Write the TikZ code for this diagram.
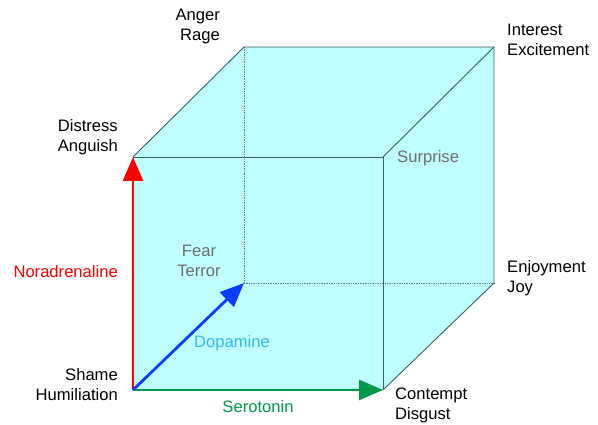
\documentclass[tikz,border=0pt]{standalone}
\usepackage{fontspec}
\setmainfont{Liberation Sans}
\usetikzlibrary{arrows.meta}
\definecolor{cubefill}{HTML}{C0FFFF}
\definecolor{edgecol}{HTML}{3A5F5F}
\definecolor{hidcol}{HTML}{4A8A8A}
\definecolor{redax}{HTML}{FF0000}
\definecolor{blueax}{HTML}{0A3EFF}
\definecolor{greenax}{HTML}{00994C}
\definecolor{dopa}{HTML}{33BBEE}
\definecolor{greytxt}{HTML}{6E6E6E}
\tikzset{
  edge/.style={draw=edgecol, line width=0.9pt},
  hidden/.style={draw=hidcol, line width=0.7pt, densely dotted},
  axis/.style={line width=2.8pt, -{Triangle[length=24pt,width=20pt]}},
  lbl/.style={font=\fontsize{16.6}{20}\selectfont, inner sep=0pt},
}
\begin{document}
\begin{tikzpicture}[x=1pt,y=-1pt]
\useasboundingbox (0,0) rectangle (598,425);
% vertices
\coordinate (FBL) at (133,390);
\coordinate (FBR) at (383,390);
\coordinate (FTL) at (133,157);
\coordinate (FTR) at (383,157);
\coordinate (BBL) at (244,283);
\coordinate (BBR) at (494,283);
\coordinate (BTL) at (244,47);
\coordinate (BTR) at (494,47);
% fill
\fill[cubefill] (FBL) -- (FTL) -- (BTL) -- (BTR) -- (BBR) -- (FBR) -- cycle;
% hidden edges
\draw[hidden] (BTL) -- (BBL);
\draw[hidden] (BBL) -- (BBR);
% visible edges
\draw[edge] (FTL) -- (BTL) -- (BTR) -- (BBR) -- (FBR);
\draw[edge] (FTR) -- (BTR);
\draw[edge] (FTL) -- (FTR) -- (FBR);
% axes
\draw[axis, redax] (FBL) -- (FTL);
\draw[axis, greenax] (FBL) -- (FBR);
\draw[axis, blueax] (FBL) -- (BBL);
% labels
\node[lbl, align=right, anchor=east] (anger) at (220,27) {Anger\\Rage};
\node[lbl, align=right, anchor=east] (distress) at (118,137) {Distress\\Anguish};
\node[lbl, align=left, anchor=west] (interest) at (507,40) {Interest\\Excitement};
\node[lbl, align=left, anchor=west, text=greytxt] (surprise) at (397,158) {Surprise};
\node[lbl, align=center, text=greytxt] (fear) at (199,261) {Fear\\Terror};
\node[lbl, align=left, anchor=west] (enjoy) at (507,278) {Enjoyment\\Joy};
\node[lbl, anchor=east, text=redax] (nora) at (118,272) {Noradrenaline};
\node[lbl, anchor=west, text=dopa] (dopamine) at (194,343) {Dopamine};
\node[lbl, align=right, anchor=east] (shame) at (118,385) {Shame\\Humiliation};
\node[lbl, align=left, anchor=west] (contempt) at (395,405) {Contempt\\Disgust};
\node[lbl, text=greenax] (sero) at (258,407) {Serotonin};
\end{tikzpicture}
\end{document}
